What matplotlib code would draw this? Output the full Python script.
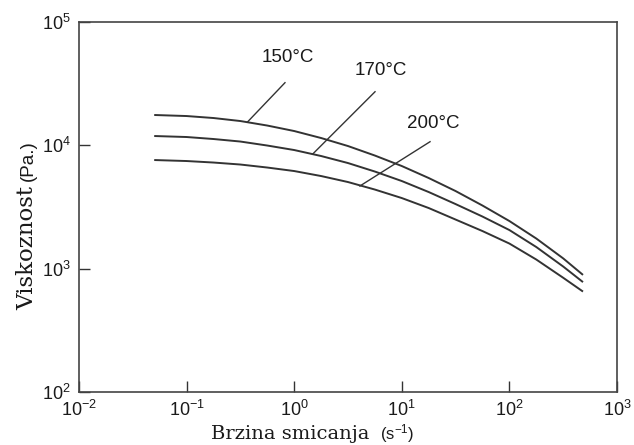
import matplotlib
matplotlib.use("Agg")
import matplotlib.pyplot as plt
from matplotlib.ticker import LogLocator, NullLocator

plt.rcParams['font.family'] = ['Liberation Sans', 'DejaVu Sans']
plt.rcParams['mathtext.fontset'] = 'custom'
plt.rcParams['mathtext.rm'] = 'Liberation Sans'
plt.rcParams['mathtext.it'] = 'Liberation Sans:italic'
plt.rcParams['mathtext.bf'] = 'Liberation Sans:bold'
plt.rcParams['mathtext.default'] = 'regular'

# Data
shear_rate = [0.05, 0.1, 0.178, 0.316, 0.562, 1, 1.78, 3.16, 5.62, 10,
              17.8, 31.6, 56.2, 100, 178, 316, 483]
visc_150 = [17620, 17280, 16650, 15740, 14470, 13060, 11460, 9870, 8265,
            6795, 5430, 4260, 3250, 2433, 1754, 1212, 890]
visc_170 = [11900, 11680, 11250, 10735, 9963, 9160, 8190, 7185, 6130,
            5135, 4180, 3340, 2646, 2056, 1497, 1041, 778]
visc_200 = [7600, 7460, 7253, 6989, 6607, 6188, 5636, 5040, 4380,
            3737, 3101, 2502, 2018, 1598, 1185, 844, 652]
series_labels = ["150°C", "170°C", "200°C"]

fig = plt.figure(figsize=(6.34, 4.45), dpi=100)
ax = fig.add_axes([79/634, 53/445, 538/634, 370/445])

line_color = '#333333'
for v in (visc_150, visc_170, visc_200):
    ax.plot(shear_rate, v, color=line_color, lw=1.4, solid_capstyle='butt')

# leader lines and labels (annotation geometry)
leaders = [
    ((0.37, 15540), (0.821, 32200), (0.876, 52000)),
    ((1.486, 8500), (5.64, 27200), (6.42, 40400)),
    ((4.08, 4680), (18.3, 10700), (19.5, 15000)),
]
for (p0, p1, pt), lab in zip(leaders, series_labels):
    ax.plot([p0[0], p1[0]], [p0[1], p1[1]], color=line_color, lw=1.0)
    ax.text(pt[0], pt[1], lab, ha='center', va='center', fontsize=13.5,
            color='#1a1a1a')

ax.set_xscale('log')
ax.set_yscale('log')
ax.set_xlim(1e-2, 1e3)
ax.set_ylim(1e2, 1e5)
ax.xaxis.set_major_locator(LogLocator(base=10, numticks=10))
ax.yaxis.set_major_locator(LogLocator(base=10, numticks=10))
ax.xaxis.set_minor_locator(NullLocator())
ax.yaxis.set_minor_locator(NullLocator())

ax.tick_params(axis='both', which='major', direction='in', length=8, width=1.0,
               color='#333333', labelsize=13, labelcolor='#1a1a1a',
               top=False, right=False)
ax.tick_params(axis='y', pad=6)
ax.tick_params(axis='x', pad=6)
for s in ax.spines.values():
    s.set_linewidth(1.2)
    s.set_color('#444444')

# axis labels (serif word + sans unit)
fig.text(290/634, (445-439)/445, "Brzina smicanja", family='DejaVu Serif',
         fontsize=14, ha='center', va='baseline', color='#1a1a1a')
fig.text(380/634, (445-439)/445, "(s$^{-1}$)", fontsize=12,
         ha='left', va='baseline', color='#1a1a1a')
fig.text(33/634, (445-248.5)/445, "Viskoznost", family='DejaVu Serif',
         fontsize=16.5, rotation=90, rotation_mode='anchor', ha='center',
         va='baseline', color='#1a1a1a')
fig.text(33/634, (445-160.5)/445, "(Pa.)", fontsize=13.5, rotation=90,
         rotation_mode='anchor', ha='center', va='baseline', color='#1a1a1a')

fig.savefig('out.png', dpi=100)
